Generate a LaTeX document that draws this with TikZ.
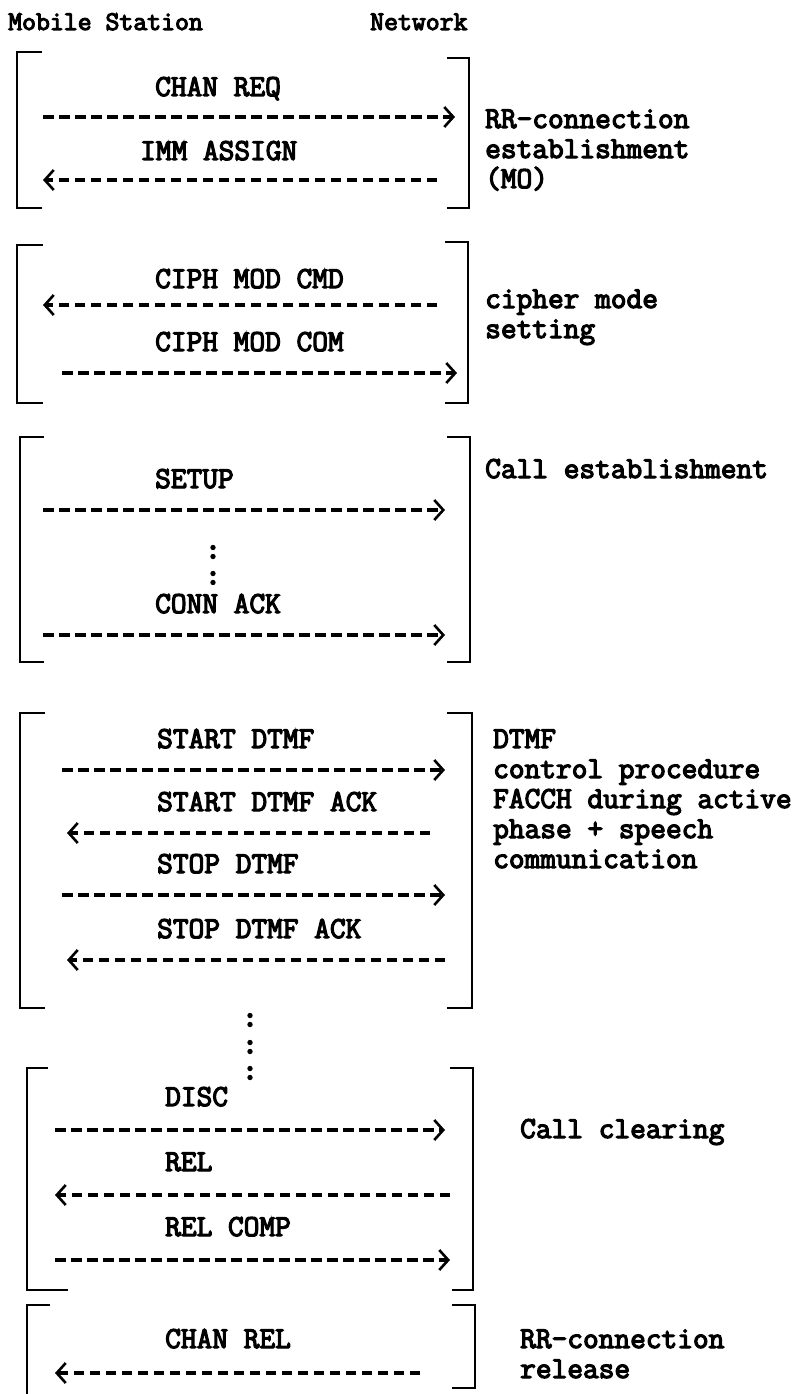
\documentclass[tikz,border=0pt]{standalone}
\usepackage{fontspec}
\usetikzlibrary{arrows.meta}
\newfontfamily\twfont{Latin Modern Mono}[FakeBold=4]
\newcommand\msgfont{\twfont\fontsize{30.5}{34}\selectfont}
\newcommand\hdrfont{\twfont\fontsize{27}{30}\selectfont}
\newcommand\colondots[2]{\fill (#1,#2-4.5) circle (2.7pt); \fill (#1,#2+4.5) circle (2.7pt);}
\begin{document}
\begin{tikzpicture}[x=1pt,y=-1pt,
  txt/.style={font=\msgfont, anchor=base west, inner sep=0pt},
  hdr/.style={font=\hdrfont, anchor=base west, inner sep=0pt},
  brk/.style={line width=2.8pt, line join=miter},
  msgarrow/.style={line width=3.2pt, dash pattern=on 10.5pt off 5.5pt,
     -{Straight Barb[length=9pt,width=20pt,line width=2.6pt]}}]
\fill[white] (0,0) rectangle (801,1394);
\useasboundingbox (0,0) rectangle (801,1394);

% header
\node[hdr] (ms) at (8,30) {Mobile Station};
\node[hdr] (nw) at (370,30) {Network};

% ---------- block 1
\draw[brk] (42,52) -- (17,52) -- (17,208) -- (42,208);
\draw[brk] (447,58) -- (469,58) -- (469,208) -- (447,208);
\node[txt] (chanreq) at (155,96) {CHAN REQ};
\coordinate (a1s) at (43,117); \coordinate (a1e) at (455,117);
\draw[msgarrow] (a1s) -- (a1e);
\node[txt] (immass) at (140,160) {IMM ASSIGN};
\coordinate (a2s) at (437,180); \coordinate (a2e) at (43,180);
\draw[msgarrow] (a2s) -- (a2e);
\node[txt] (l1a) at (485,128) {RR-connection};
\node[txt] (l1b) at (485,158) {establishment};
\node[txt] (l1c) at (485,188) {(MO)};

% ---------- block 2
\draw[brk] (43,245) -- (17,245) -- (17,403) -- (43,403);
\draw[brk] (445,242) -- (468,242) -- (468,403) -- (445,403);
\node[txt] (cmd) at (155,288) {CIPH MOD CMD};
\coordinate (a3s) at (437,305); \coordinate (a3e) at (43,305);
\draw[msgarrow] (a3s) -- (a3e);
\node[txt] (com) at (155,351) {CIPH MOD COM};
\coordinate (a4s) at (62,373); \coordinate (a4e) at (457,373);
\draw[msgarrow] (a4s) -- (a4e);
\node[txt] (l2a) at (485,308) {cipher mode};
\node[txt] (l2b) at (485,338) {setting};

% ---------- block 3
\draw[brk] (44,437) -- (20,437) -- (20,662) -- (44,662);
\draw[brk] (447,437) -- (470,437) -- (470,662) -- (447,662);
\node[txt] (setup) at (155,488) {SETUP};
\coordinate (a5s) at (43,510); \coordinate (a5e) at (445,510);
\draw[msgarrow] (a5s) -- (a5e);
\colondots{213}{552}
\colondots{213}{578}
\node[txt] (connack) at (155,613) {CONN ACK};
\coordinate (a6s) at (43,635); \coordinate (a6e) at (445,635);
\draw[msgarrow] (a6s) -- (a6e);
\node[txt] (l3a) at (485,478) {Call establishment};

% ---------- block 4
\draw[brk] (45,713) -- (20,713) -- (20,1008) -- (45,1008);
\draw[brk] (447,713) -- (472,713) -- (472,1008) -- (447,1008);
\node[txt] (sd) at (157,748) {START DTMF};
\coordinate (a7s) at (62,770); \coordinate (a7e) at (445,770);
\draw[msgarrow] (a7s) -- (a7e);
\node[txt] (sda) at (157,811) {START DTMF ACK};
\coordinate (a8s) at (430,833); \coordinate (a8e) at (67,833);
\draw[msgarrow] (a8s) -- (a8e);
\node[txt] (spd) at (157,873) {STOP DTMF};
\coordinate (a9s) at (62,895); \coordinate (a9e) at (445,895);
\draw[msgarrow] (a9s) -- (a9e);
\node[txt] (spda) at (157,938) {STOP DTMF ACK};
\coordinate (a10s) at (445,960); \coordinate (a10e) at (67,960);
\draw[msgarrow] (a10s) -- (a10e);
\node[txt] (l4a) at (493,748) {DTMF};
\node[txt] (l4b) at (493,778) {control procedure};
\node[txt] (l4c) at (493,808) {FACCH during active};
\node[txt] (l4d) at (493,838) {phase + speech};
\node[txt] (l4e) at (493,868) {communication};

% dots between blocks
\colondots{250}{1020}
\colondots{250}{1047}
\colondots{250}{1073}

% ---------- block 5
\draw[brk] (48,1068) -- (27,1068) -- (27,1290) -- (68,1290);
\draw[brk] (450,1068) -- (473,1068) -- (473,1290) -- (452,1290);
\node[txt] (disc) at (165,1106) {DISC};
\coordinate (a11s) at (55,1130); \coordinate (a11e) at (445,1130);
\draw[msgarrow] (a11s) -- (a11e);
\node[txt] (rel) at (165,1171) {REL};
\coordinate (a12s) at (450,1195); \coordinate (a12e) at (55,1195);
\draw[msgarrow] (a12s) -- (a12e);
\node[txt] (relcomp) at (165,1236) {REL COMP};
\coordinate (a13s) at (55,1260); \coordinate (a13e) at (450,1260);
\draw[msgarrow] (a13s) -- (a13e);
\node[txt] (l5a) at (520,1138) {Call clearing};

% ---------- block 6
\draw[brk] (50,1305) -- (27,1305) -- (27,1394);
\draw[brk] (452,1305) -- (475,1305) -- (475,1388) -- (452,1388);
\node[txt] (chanrel) at (165,1348) {CHAN REL};
\coordinate (a14s) at (420,1373); \coordinate (a14e) at (55,1373);
\draw[msgarrow] (a14s) -- (a14e);
\node[txt] (l6a) at (520,1348) {RR-connection};
\node[txt] (l6b) at (520,1378) {release};
\end{tikzpicture}
\end{document}
